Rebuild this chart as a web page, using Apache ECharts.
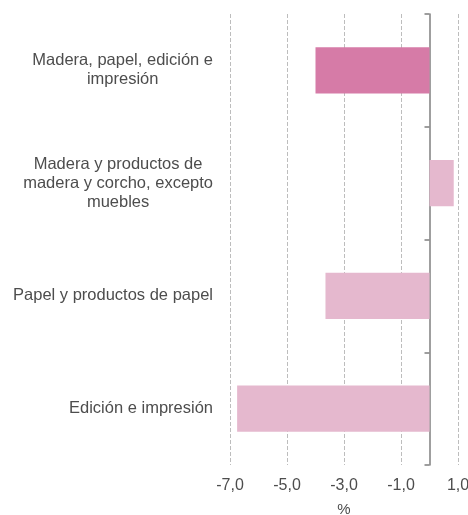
<!DOCTYPE html>
<html>
<head>
<meta charset="utf-8">
<script src="https://cdn.jsdelivr.net/npm/echarts@6/dist/echarts.min.js"></script>
<style>html,body{margin:0;padding:0;background:#fff}#c{width:468px;height:515px}</style>
</head>
<body>
<div id="c"></div>
<script>
const categories = [
  'Madera, papel, edición e\nimpresión',
  'Madera y productos de\nmadera y corcho, excepto\nmuebles',
  'Papel y productos de papel',
  'Edición e impresión'
];
const values = [-4.0, 0.85, -3.65, -6.75];
const barColors = ['#D67BA7', '#E5B8CE', '#E5B8CE', '#E5B8CE'];
const xMin = -7, xMax = 1, xStep = 2;
const axisTitle = '%';

const chart = echarts.init(document.getElementById('c'));
const font = 'Liberation Sans, Arial, sans-serif';
const txt = '#4d4d4d';
chart.setOption({
  animation: false,
  grid: { left: 230, right: 10, top: 14, bottom: 50, containLabel: false, outerBoundsMode: 'none' },
  xAxis: {
    type: 'value', min: xMin, max: xMax, interval: xStep,
    axisLine: { show: false }, axisTick: { show: false },
    splitLine: { show: true, lineStyle: { color: '#BDBDBD', type: [4, 2], width: 1 } },
    axisLabel: { color: txt, fontFamily: font, fontSize: 16, margin: 13,
      formatter: v => v.toFixed(1).replace('.', ',') },
    name: axisTitle, nameLocation: 'middle', nameGap: 37,
    nameTextStyle: { color: txt, fontFamily: font, fontSize: 15 }
  },
  yAxis: [
    {
      type: 'category', data: categories, inverse: true, position: 'left',
      axisLine: { show: false, onZero: false }, axisTick: { show: false },
      axisLabel: {
        margin: 17, align: 'right',
        formatter: s => s.split('\n').map(l => '{c|' + l + '}').join('\n'),
        rich: { c: { align: 'center', color: txt, fontFamily: font, fontSize: 16.5, lineHeight: 19 } }
      }
    },
    {
      type: 'category', data: categories, inverse: true, position: 'right',
      axisLine: { show: true, onZero: true, lineStyle: { color: '#7F7F7F', width: 1.5 } },
      axisTick: { show: true, inside: true, length: 5, lineStyle: { color: '#7F7F7F', width: 1.5 } },
      axisLabel: { show: false }, splitLine: { show: false }
    }
  ],
  series: [{
    type: 'bar', yAxisIndex: 0, barWidth: '41%',
    data: values.map((v, i) => ({ value: v, itemStyle: { color: barColors[i] } }))
  }]
});
</script>
</body>
</html>
